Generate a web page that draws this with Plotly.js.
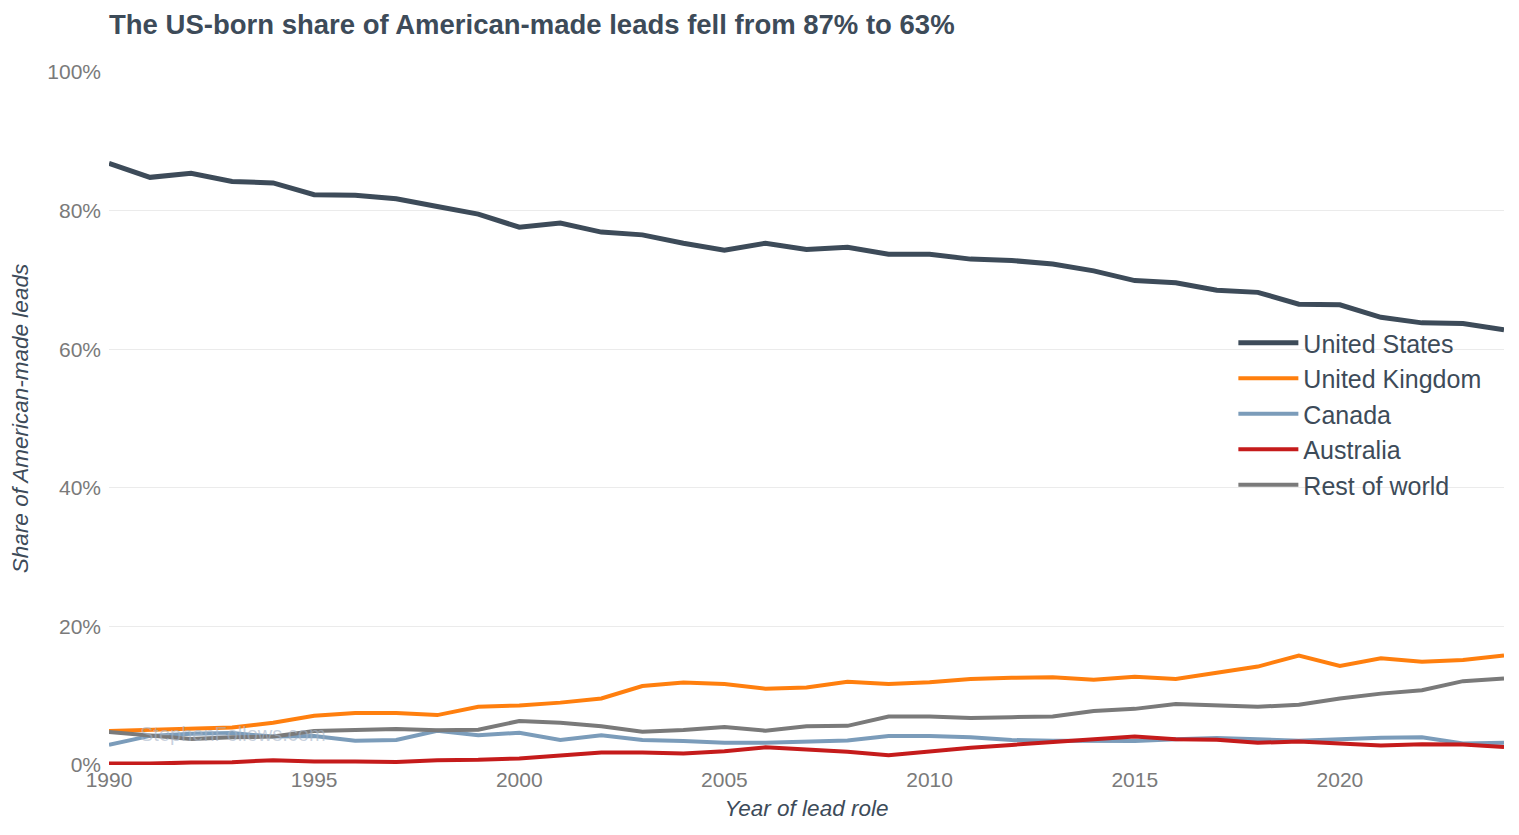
<!DOCTYPE html>
<html>
<head>
<meta charset="utf-8">
<script src="https://cdn.plot.ly/plotly-3.0.1.min.js"></script>
<style>html,body{margin:0;padding:0;background:#fff;}#chart{width:1519px;height:835px;}</style>
</head>
<body>
<div id="chart"></div>
<script>
const years = [];
for (let y = 1990; y <= 2024; y++) years.push(y);

const unitedStates = [86.8,84.8,85.4,84.2,84.0,82.3,82.2,81.7,80.6,79.5,77.6,78.2,76.9,76.5,75.3,74.3,75.3,74.4,74.7,73.7,73.7,73.0,72.8,72.3,71.3,69.9,69.6,68.5,68.2,66.5,66.4,64.6,63.8,63.7,62.8];
const unitedKingdom = [4.9,5.1,5.3,5.4,6.1,7.1,7.5,7.5,7.2,8.4,8.6,9.0,9.6,11.4,11.9,11.7,11.0,11.2,12.0,11.7,11.95,12.4,12.6,12.65,12.3,12.75,12.4,13.3,14.2,15.8,14.3,15.4,14.9,15.15,15.8];
const canada = [2.9,4.2,4.5,4.6,4.1,4.2,3.5,3.6,4.95,4.3,4.65,3.6,4.3,3.6,3.45,3.2,3.2,3.4,3.55,4.2,4.2,4.0,3.6,3.5,3.45,3.45,3.7,3.9,3.7,3.5,3.7,3.95,4.0,3.1,3.2];
const australia = [0.2,0.2,0.35,0.4,0.7,0.5,0.5,0.45,0.7,0.75,0.95,1.4,1.8,1.8,1.65,2.0,2.55,2.25,1.9,1.4,2.0,2.5,2.9,3.3,3.65,4.1,3.7,3.65,3.2,3.4,3.1,2.8,3.0,2.95,2.6];
const restOfWorld = [4.75,4.3,3.75,4.0,4.1,4.9,5.05,5.2,5.0,5.1,6.35,6.1,5.6,4.8,5.05,5.5,4.95,5.6,5.65,7.0,7.0,6.8,6.9,7.0,7.8,8.1,8.8,8.6,8.4,8.7,9.6,10.3,10.8,12.1,12.5];

const seriesNames = ["United States","United Kingdom","Canada","Australia","Rest of world"];
const seriesValues = [unitedStates, unitedKingdom, canada, australia, restOfWorld];
const seriesColors = ["#3d4b59","#ff7f0e","#7b9cba","#c51b1b","#7a7a7a"];
const seriesWidths = [5,4,4,4,4];

const yTickVals = [0,20,40,60,80,100];
const yTickText = ["0%","20%","40%","60%","80%","100%"];
const xTickVals = [1990,1995,2000,2005,2010,2015,2020];

const FONT = "Arial, 'Liberation Sans', sans-serif";
const traces = seriesNames.map((n, i) => ({
  type: "scatter", mode: "lines", name: n, x: years, y: seriesValues[i],
  line: {color: seriesColors[i], width: seriesWidths[i]},
  hoverinfo: "skip"
}));

const layout = {
  width: 1519, height: 835,
  margin: {l: 109, r: 15, t: 72, b: 70},
  paper_bgcolor: "#ffffff", plot_bgcolor: "#ffffff",
  font: {family: FONT, color: "#3d4b59"},
  title: {text: "<b>The US-born share of American-made leads fell from 87% to 63%</b>",
          x: 109/1519, xanchor: "left", y: 0.971, yanchor: "middle",
          font: {family: FONT, size: 27.5, color: "#3d4b59"}},
  xaxis: {range: [1990, 2024], tickvals: xTickVals, showgrid: false, zeroline: false,
          showline: false, ticks: "", tickfont: {family: FONT, size: 21, color: "#7a7a7a"},
          title: {text: "<i>Year of lead role</i>", font: {family: FONT, size: 22.5, color: "#3d4b59"}, standoff: 10}},
  yaxis: {range: [0, 100], tickvals: yTickVals, ticktext: yTickText, showgrid: true,
          gridcolor: "#ebebeb", gridwidth: 1, zeroline: false, showline: false, ticks: "",
          ticklabelstandoff: 7,
          tickfont: {family: FONT, size: 21, color: "#7a7a7a"},
          title: {text: "<i>Share of American-made leads</i>", font: {family: FONT, size: 22.5, color: "#3d4b59"}, standoff: 12}},
  legend: {x: 0.806, y: 0.642, xanchor: "left", yanchor: "top", bgcolor: "rgba(0,0,0,0)",
           font: {family: FONT, size: 25, color: "#3d4b59"}, tracegroupgap: 0, itemwidth: 60},
  annotations: [{text: "StephenFollows.com", xref: "paper", yref: "paper", x: 0.021, y: 0.045,
                 xanchor: "left", yanchor: "middle", showarrow: false,
                 font: {family: FONT, size: 20, color: "rgba(165,180,200,0.6)"}}]
};

Plotly.newPlot("chart", traces, layout, {displayModeBar: false, staticPlot: true});
</script>
</body>
</html>
